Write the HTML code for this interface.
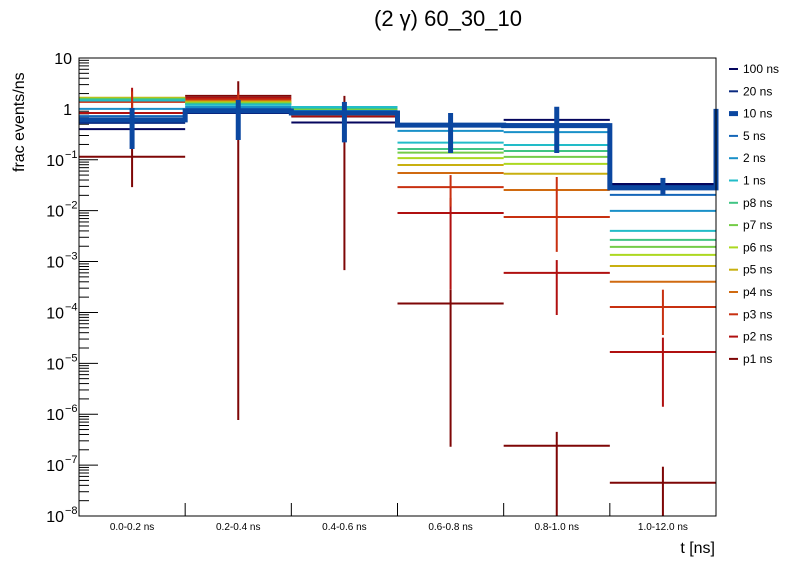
<!DOCTYPE html>
<html><head><meta charset="utf-8"><style>
body{margin:0;background:#fff;}
svg text{font-family:"Liberation Sans",sans-serif;}
</style></head><body>
<svg id="chart" width="796" height="572" xmlns="http://www.w3.org/2000/svg">
<rect width="796" height="572" fill="#fff"/>
<text x="448" y="26" font-size="22" text-anchor="middle">(2 γ) 60_30_10</text>
<text transform="translate(24,172) rotate(-90)" font-size="16">frac events/ns</text>
<text x="715" y="553" font-size="16" text-anchor="end">t [ns]</text>
<g id="plot"></g>
<rect x="79" y="58" width="637" height="458" fill="none" stroke="#000" stroke-width="1"/>
<g id="legend"></g>
</svg>
<script>
const categories = ["0.0-0.2 ns","0.2-0.4 ns","0.4-0.6 ns","0.6-0.8 ns","0.8-1.0 ns","1.0-12.0 ns"];
const seriesNames = ["100 ns","20 ns","10 ns","5 ns","2 ns","1 ns","p8 ns","p7 ns","p6 ns","p5 ns","p4 ns","p3 ns","p2 ns","p1 ns"];
const seriesColors = ["#05065e","#0a2a80","#0b47a0","#1566b8","#1a90c8","#22bcc8","#40c484","#74cc48","#acd820","#c8b010","#d06a10","#c83010","#b01010","#7e0606"];
const v100 = [0.40,0.83,0.54,0.50,0.61,0.0335];
const v20  = [0.53,0.87,0.79,0.49,0.50,0.031];
const v10  = [0.61,0.91,0.83,0.48,0.47,0.028];
const v5   = [0.72,1.0,0.87,0.46,0.44,0.0204];
const v2   = [1.0,1.09,0.91,0.37,0.35,0.0099];
const v1   = [1.46,1.2,1.09,0.217,0.195,0.004];
const vp8  = [1.53,1.25,1.04,0.163,0.149,0.00266];
const vp7  = [1.57,1.28,1.0,0.138,0.114,0.00194];
const vp6  = [1.6,1.31,0.98,0.108,0.083,0.00135];
const vp5  = [1.66,1.37,0.95,0.079,0.053,0.00082];
const vp4  = [1.64,1.43,0.93,0.055,0.0255,0.0004];
const vp3  = [1.37,1.53,0.76,0.029,0.0075,0.000128];
const vp2  = [0.83,1.64,0.73,0.009,0.0006,0.0000167];
const vp1  = [0.115,1.8,0.71,0.00015,0.00000024,0.000000045];
const errLo10 = [0.163,0.245,0.22,0.136,0.136,0.0204];
const errHi10 = [1.04,1.5,1.37,0.83,1.1,0.044];
const errLoP1 = [0.029,0.00000077,0.00068,0.00000023,1e-10,1e-10];
const errHiP1 = [1.37,3.5,1.8,0.00028,0.00000045,0.000000093];
const errLoP2 = [0.5,1.2,0.5,0.00028,0.000089,0.0000014];
const errHiP2 = [2.6,2.2,1.0,0.0178,0.00107,0.000032];
const errLoP3 = [0.9,1.2,0.5,0.012,0.00155,0.000036];
const errHiP3 = [2.2,2.0,1.0,0.05,0.046,0.00028];
const yTicks = [1,0,-1,-2,-3,-4,-5,-6,-7,-8];
const allValues = [v100,v20,v10,v5,v2,v1,vp8,vp7,vp6,vp5,vp4,vp3,vp2,vp1];

const X0=79,X1=716,Y0=58,Y1=516;
const NS="http://www.w3.org/2000/svg";
const bw=(X1-X0)/categories.length;
function xEdge(i){return X0+i*bw;}
function xMid(i){return X0+(i+0.5)*bw;}
function yScale(v){const e=Math.log10(v);return Math.min(Y1,Math.max(Y0,Y0+(1-e)*(Y1-Y0)/9));}
const plot=document.getElementById('plot');
function mk(tag,attrs,parent){const el=document.createElementNS(NS,tag);for(const k in attrs)el.setAttribute(k,attrs[k]);(parent||plot).appendChild(el);return el;}

// y ticks
yTicks.forEach(e=>{
  const y=yScale(Math.pow(10,e));
  const t=mk('line',{x1:X0,x2:X0+19,y1:y,y2:y,stroke:'#000'});
  
  
  if(e>-8){for(let m=2;m<=9;m++){const ym=yScale(m*Math.pow(10,e-1));const mt=mk('line',{x1:X0,x2:X0+10,y1:ym,y2:ym,stroke:'#000'});
    
    }}
  const lb=mk('text',{x:e===1||e===0?72:64,y:y+6,'font-size':16,'text-anchor':'end'});
  
  
  if(e===1)lb.textContent='10';else if(e===0)lb.textContent='1';
  else{lb.textContent='10';const s=mk('tspan',{'font-size':11,dy:-8,x:65,'text-anchor':'start'},lb);s.textContent=String(e).replace('-','−');}
});
// x ticks and labels
categories.forEach((c,i)=>{
  if(i>0){const t=mk('line',{x1:xEdge(i),x2:xEdge(i),y1:Y1,y2:Y1-13,stroke:'#000'});
    
    }
  const lb=mk('text',{x:xMid(i),y:530,'font-size':10,'text-anchor':'middle'});
  
  
  lb.textContent=c;
});
function errBar(lo,hi,color,w,name){lo.forEach((l,i)=>{
  const b=mk('line',{x1:xMid(i),x2:xMid(i),y1:yScale(l),y2:yScale(hi[i]),stroke:color,'stroke-width':w});
  
  });}
// series (draw from p1 up, 10 ns thick last)
for(let s=allValues.length-1;s>=0;s--){
  if(s===2)continue;
  allValues[s].forEach((v,i)=>{
    const l=mk('line',{x1:xEdge(i),x2:xEdge(i+1),y1:yScale(v),y2:yScale(v),stroke:seriesColors[s],'stroke-width':2});
    
    
  });
}
errBar(errLoP1,errHiP1,seriesColors[13],2,'p1-error-bar');
errBar(errLoP2,errHiP2,seriesColors[12],2,'p2-error-bar');
errBar(errLoP3,errHiP3,seriesColors[11],2,'p3-error-bar');
// 10 ns thick step
let d='';
v10.forEach((v,i)=>{d+=(i===0?'M':'L')+xEdge(i)+' '+yScale(v)+' L'+xEdge(i+1)+' '+yScale(v)+' ';});
d+='L'+X1+' '+yScale(1);
const st=mk('path',{d:d,fill:'none',stroke:seriesColors[2],'stroke-width':5});


errBar(errLo10,errHi10,seriesColors[2],5,'10ns-error-bar');
// legend
const lg=document.getElementById('legend');
seriesNames.forEach((n,i)=>{
  const y=69+i*22.3;
  const ln=mk('line',{x1:729,x2:738,y1:y,y2:y,stroke:seriesColors[i],'stroke-width':i===2?5:2},lg);
  
  
  const t=mk('text',{x:743,y:y+4,'font-size':12},lg);
  
  
  t.textContent=n;
});
</script>
</body></html>
